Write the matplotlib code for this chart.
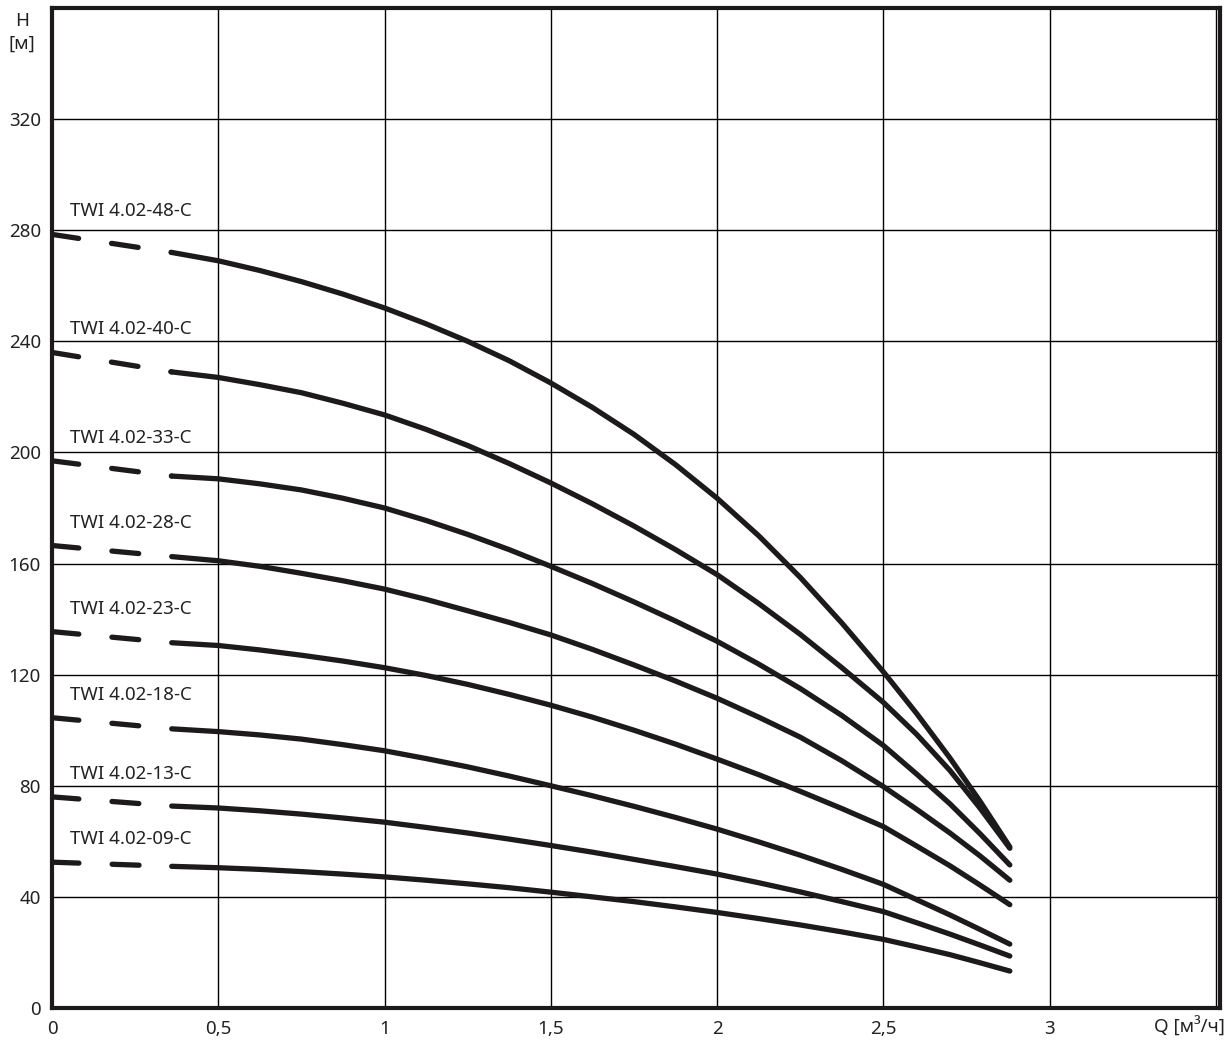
import matplotlib
matplotlib.use('Agg')
import matplotlib.pyplot as plt
import numpy as np

plt.rcParams['font.family'] = ['Noto Sans', 'DejaVu Sans']

# pump curves TWI 4.02
models = ['TWI 4.02-48-C', 'TWI 4.02-40-C', 'TWI 4.02-33-C', 'TWI 4.02-28-C',
          'TWI 4.02-23-C', 'TWI 4.02-18-C', 'TWI 4.02-13-C', 'TWI 4.02-09-C']

# head at Q=0 (start of the dashed part)
h_zero = [278.5, 236, 197, 166.5, 135.5, 104.5, 76, 52.5]

# solid part
q_solid = [0.36, 0.5, 0.625, 0.75, 0.875, 1.0, 1.125, 1.25, 1.375, 1.5, 1.625,
           1.75, 1.875, 2.0, 2.125, 2.25, 2.375, 2.5, 2.6, 2.7, 2.79, 2.88]
h_48 = [272, 269, 265.5, 261.5, 257, 252, 246.3, 240, 233, 225, 216.2,
        206.5, 195.6, 183.5, 170, 155, 138.6, 121, 106, 90, 74.5, 58]
h_40 = [229, 227, 224.4, 221.5, 217.7, 213.5, 208.3, 202.5, 196, 189, 181.5,
        173.5, 165, 156, 145.6, 134.5, 122.5, 110, 98.5, 85.5, 72, 57.5]
h_33 = [191.5, 190.5, 188.7, 186.5, 183.5, 180, 175.5, 170.5, 165, 159, 152.8,
        146.2, 139.3, 132, 123.8, 115, 105.3, 94.5, 84.2, 73.5, 62.8, 51.5]
h_28 = [162.5, 161, 159, 156.5, 153.8, 150.8, 147.1, 143, 138.8, 134.3, 129.1,
        123.5, 117.7, 111.5, 104.7, 97.5, 89, 79.7, 71.5, 63, 54.8, 46]
h_23 = [131.5, 130.5, 128.9, 127, 124.9, 122.5, 119.7, 116.5, 112.9, 109, 104.7,
        100, 95, 89.6, 84, 78, 71.8, 65.3, 58.3, 51.2, 44.3, 37.2]
h_18 = [100.5, 99.5, 98.3, 96.8, 94.8, 92.6, 89.8, 86.8, 83.5, 80, 76.4,
        72.6, 68.6, 64.4, 59.8, 55, 49.9, 44.5, 39, 33.5, 28.3, 23]
h_13 = [72.7, 72, 71, 69.8, 68.4, 66.9, 65, 63, 60.8, 58.5, 56.1,
        53.5, 50.9, 48.2, 45.1, 41.8, 38.3, 34.7, 30.7, 26.6, 22.7, 18.7]
h_09 = [51, 50.5, 49.9, 49.1, 48.2, 47.2, 46, 44.7, 43.3, 41.7, 40,
        38.3, 36.4, 34.4, 32.2, 29.9, 27.4, 24.7, 22, 19.2, 16.3, 13.3]
heads = [h_48, h_40, h_33, h_28, h_23, h_18, h_13, h_09]

x_ticks = [0, 0.5, 1, 1.5, 2, 2.5, 3]
x_labels = ['0', '0,5', '1', '1,5', '2', '2,5', '3']
y_ticks = [0, 40, 80, 120, 160, 200, 240, 280, 320]

col = '#1c1a1a'
txt = '#222222'

fig = plt.figure(figsize=(12.26, 10.41), dpi=100)
ax = fig.add_axes([52 / 1226, 33 / 1041, 1168 / 1226, 1000 / 1041])
ax.set_xlim(0, 3.512)
ax.set_ylim(0, 360)

# grid
for x in np.arange(0.5, 3.51, 0.5):
    ax.axvline(x, color='black', lw=1.0, zorder=1)
for y in np.arange(40, 359, 40):
    ax.axhline(y, color='black', lw=1.0, zorder=1)

for name, h0, h in zip(models, h_zero, heads):
    # dashed start
    ax.plot([0, q_solid[0]], [h0, h[0]], color=col, lw=3.8,
            linestyle=(0, (5.1, 6.3)), dash_capstyle='round', zorder=3)
    ax.plot(q_solid, h, color=col, lw=3.8, solid_capstyle='round',
            solid_joinstyle='round', zorder=3)
    ax.annotate(name, xy=(0, h0), xytext=(18, 23), textcoords='offset pixels',
                ha='left', va='center', fontsize=13.5, color=txt)

ax.set_xticks(x_ticks)
ax.set_xticklabels(x_labels)
ax.set_yticks(y_ticks)
ax.tick_params(length=0, labelsize=13.5, colors=txt, pad=8)
ax.tick_params(axis='x', pad=9)

for s in ax.spines.values():
    s.set_linewidth(3)
    s.set_color(col)

ax.annotate('Q [м³/ч]', xy=(3.42, 0), xycoords=('data', 'axes fraction'),
            xytext=(0, -19), textcoords='offset pixels', ha='center', va='center',
            fontsize=13.5, color=txt)
ax.annotate('H\n[м]', xy=(0, 1), xycoords='axes fraction',
            xytext=(-30, -24), textcoords='offset pixels', ha='center', va='center',
            fontsize=13.5, color=txt, linespacing=1.35)

fig.savefig('out.png', dpi=100)
